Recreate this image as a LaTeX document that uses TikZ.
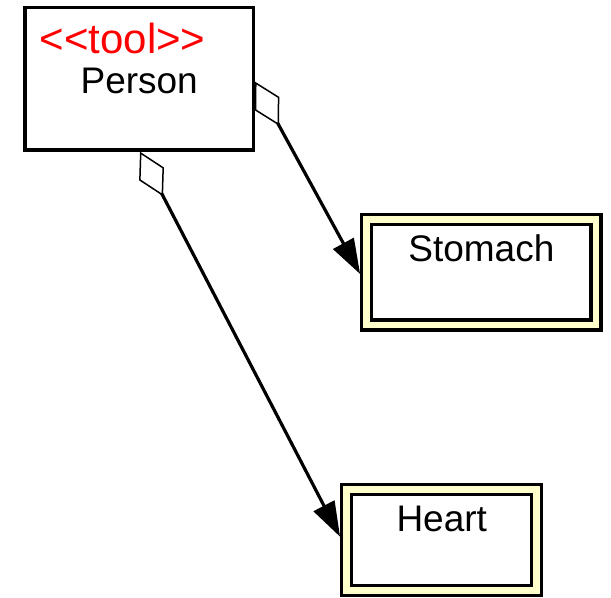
\documentclass[tikz,border=0pt]{standalone}
\usepackage{fontspec}
\setmainfont{Liberation Sans}
\usepackage{tikz}
\usetikzlibrary{
    arrows.meta,
    positioning
}
\definecolor{partyellow}{HTML}{FFFFCC}

\begin{document}
\begin{tikzpicture}[
    class/.style={rectangle, draw=black, line width=1.65pt, fill=white,
                  minimum width=114.2pt, minimum height=71.2pt, inner sep=0pt},
    component/.style={rectangle, draw=black, line width=1.65pt, fill=white,
                  double=partyellow, double distance=3.35pt,
                  outer sep=3.325pt, inner sep=0pt},
    classname/.style={anchor=base, inner sep=0pt,
                  font=\fontsize{18.5pt}{22pt}\selectfont},
    stereotype/.style={anchor=base, inner sep=0pt, text=red,
                  font=\fontsize{21pt}{25pt}\selectfont},
    aggregation/.style={{Diamond[open, length=25pt, width=14pt, line width=0.75pt]}-{Triangle[length=17.5pt, width=11.5pt]},
                  line width=1.6pt}
]
    \useasboundingbox (0,0) rectangle (305.5pt,-299pt);

    % Classes
    \node (person) [class] at (69.6pt,-39.45pt) {};
    \node (tooltag) [stereotype] at ([xshift=-8.35pt, yshift=-23.5pt]person.north) {<{}<tool>{}>};
    \node (personname) [classname] at ([yshift=-43.6pt]person.north) {Person};

    \node (stomach) [component, minimum width=114.55pt, minimum height=52.85pt,
                     below right=30.5pt and 52.55pt of person] {};
    \node (stomachname) [classname] at ([yshift=-24.5pt]stomach.north) {Stomach};

    \node (heart) [component, minimum width=95pt, minimum height=50.5pt,
                   below=75.5pt of stomach, xshift=-19.8pt] {};
    \node (heartname) [classname] at ([yshift=-24.5pt]heart.north) {Heart};

    % Aggregation arrows
    \draw [aggregation] ([yshift=-1.4pt]person.east) -- ([yshift=-0.9pt]stomach.west);
    \draw [aggregation] ([xshift=0.4pt]person.south) -- ([yshift=1.55pt]heart.west);

\end{tikzpicture}
\end{document}
